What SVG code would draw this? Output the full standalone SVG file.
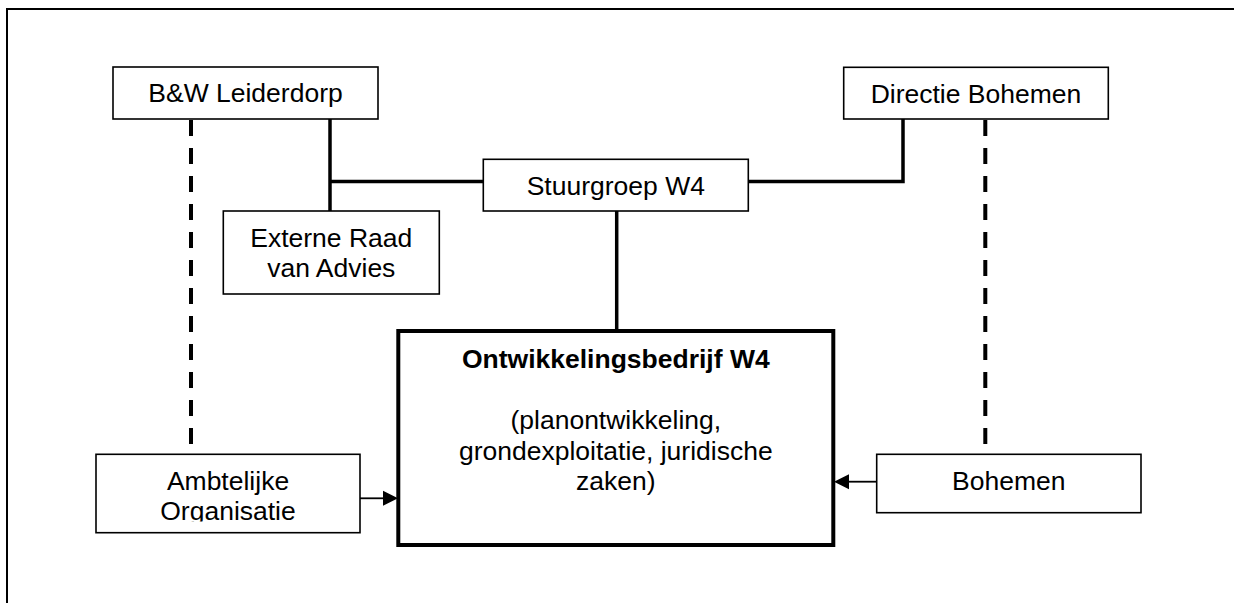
<svg xmlns="http://www.w3.org/2000/svg" width="1234" height="603" viewBox="0 0 1234 603">
<style>
.box{fill:#fff;stroke:#000;stroke-width:1.6}
.main{fill:#fff;stroke:#000;stroke-width:4}
.t{font-family:"Liberation Sans",Arial,sans-serif;font-size:26.5px;fill:#000;text-anchor:middle}
.b{font-weight:bold}
.solid{stroke:#000;stroke-width:3.5;fill:none}
.dash{stroke:#000;stroke-width:4;stroke-dasharray:16 12;fill:none}
.arr{stroke:#000;stroke-width:1.8;fill:none}
</style>
<defs>
<clipPath id="clipAmb"><rect x="96" y="454" width="264" height="67.5"/></clipPath>
</defs>
<rect x="7" y="9" width="1240" height="620" fill="none" stroke="#000" stroke-width="2"/>
<g id="connectors">
<line class="dash" x1="191" y1="120" x2="191" y2="446"/>
<line class="dash" x1="985.3" y1="120" x2="985.3" y2="446"/>
<polyline class="solid" points="330,119 330,211"/>
<line class="solid" x1="330" y1="181.5" x2="483" y2="181.5"/>
<polyline class="solid" points="748,181.5 903,181.5 903,119"/>
<line class="solid" x1="616.7" y1="211" x2="616.7" y2="331"/>
<line class="arr" x1="360" y1="498.3" x2="385" y2="498.3"/>
<polygon points="398,498.3 383,490.8 383,505.8" fill="#000"/>
<line class="arr" x1="876.7" y1="481.7" x2="846" y2="481.7"/>
<polygon points="834,481.7 849,474.2 849,489.2" fill="#000"/>
</g>
<g id="bw">
<rect class="box" x="113" y="67" width="265" height="52"/>
<text class="t" x="245.5" y="102">B&amp;W Leiderdorp</text>
</g>
<g id="directie">
<rect class="box" x="843.7" y="67.3" width="264.6" height="51.7"/>
<text class="t" x="976" y="102.5">Directie Bohemen</text>
</g>
<g id="stuurgroep">
<rect class="box" x="483.3" y="159.3" width="265" height="51.7"/>
<text class="t" x="615.8" y="195">Stuurgroep W4</text>
</g>
<g id="externe">
<rect class="box" x="223.3" y="211" width="216" height="83"/>
<text class="t" x="331.3" y="246.7">Externe Raad</text>
<text class="t" x="331.3" y="276.7">van Advies</text>
</g>
<g id="ontwikkelingsbedrijf">
<rect class="main" x="398.3" y="331" width="435" height="214"/>
<text class="t b" x="615.8" y="368.3">Ontwikkelingsbedrijf W4</text>
<text class="t" x="615.8" y="429">(planontwikkeling,</text>
<text class="t" x="615.8" y="459.5">grondexploitatie, juridische</text>
<text class="t" x="615.8" y="490">zaken)</text>
</g>
<g id="ambtelijke">
<rect class="box" x="96" y="454.3" width="264" height="78.4"/>
<g clip-path="url(#clipAmb)">
<text class="t" x="228" y="490">Ambtelijke</text>
<text class="t" x="228" y="520">Organisatie</text>
</g>
</g>
<g id="bohemen">
<rect class="box" x="876.7" y="454.3" width="264.3" height="58.4"/>
<text class="t" x="1008.8" y="490">Bohemen</text>
</g>
</svg>
